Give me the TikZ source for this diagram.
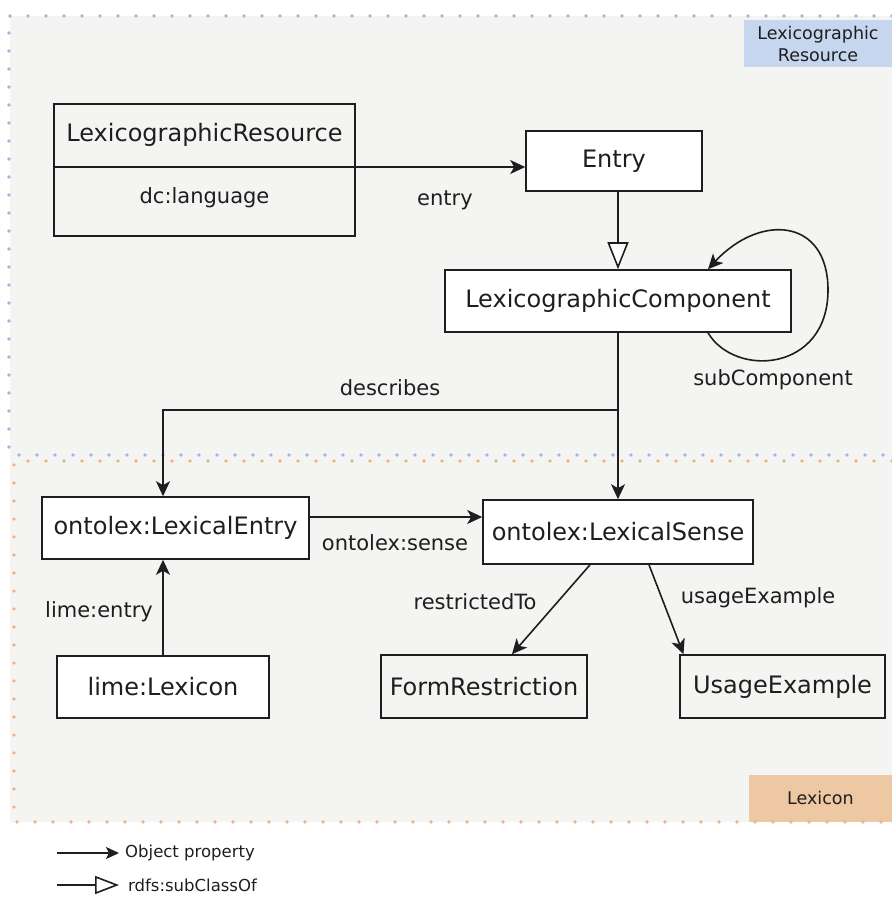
\documentclass[tikz,border=0pt]{standalone}
\usepackage{fontspec}
\setmainfont{DejaVu Sans}
\usetikzlibrary{arrows.meta}
\definecolor{bg}{HTML}{F4F4F2}
\definecolor{bluedot}{HTML}{ABB0E2}
\definecolor{orangedot}{HTML}{F0B48A}
\definecolor{bluelab}{HTML}{C6D6EF}
\definecolor{orangelab}{HTML}{EEC7A3}
\definecolor{ink}{HTML}{1E1E1E}
\begin{document}
\begin{tikzpicture}[x=1pt,y=-1pt,
  cls/.style={draw=ink, line width=1.6pt, fill=white, inner sep=0pt, font=\fontsize{24}{28}\selectfont, text=ink, minimum height=62pt},
  lbl/.style={font=\fontsize{21}{25}\selectfont, text=ink, inner sep=0pt},
  leg/.style={font=\fontsize{16.5}{20}\selectfont, text=ink, inner sep=0pt, anchor=west},
  reg/.style={font=\fontsize{17.5}{22}\selectfont, text=ink, inner sep=0pt, align=center},
  obj/.style={draw=ink, line width=1.6pt, -{Stealth[length=15pt,width=14pt,inset=4pt]}},
  sub/.style={draw=ink, line width=1.6pt, -{Triangle[length=27pt,width=21pt,fill=white]}},
  bdots/.style={draw=bluedot, line width=3.6pt, line cap=round, dash pattern=on 0pt off 18pt},
  odots/.style={draw=orangedot, line width=3.6pt, line cap=round, dash pattern=on 0pt off 18pt}]
\useasboundingbox (0,0) rectangle (892,898);
\fill[white] (0,0) rectangle (892,898);
\fill[bg] (10,16) rectangle (892,822);
% region labels
\fill[bluelab] (744,20) rectangle (892,67);
\node[reg] (rlab) at (818,43.5) {Lexicographic\\Resource};
\fill[orangelab] (749,775) rectangle (892,822);
\node[reg] (xlab) at (820.5,798) {Lexicon};
% region borders
\draw[bdots] (892,16) -- (9,16) -- (9,455) -- (892,455);
\draw[odots] (892,461) -- (14,461) -- (14,822) -- (892,822);
% classes
\node[cls, minimum width=301pt, minimum height=132pt, fill=bg] (lr) at (204.5,170) {};
\coordinate (dv) at (0,167);
\draw[ink, line width=1.6pt] (lr.west |- dv) -- (lr.east |- dv);
\node[lbl, font=\fontsize{24}{28}\selectfont] (lrt) at (204.5,135) {LexicographicResource};
\node[lbl] (lra) at (204.5,198) {dc:language};
\node[cls, minimum width=176pt, minimum height=60pt] (ent) at (614,161) {Entry};
\node[cls, minimum width=346pt] (lc) at (618,301) {LexicographicComponent};
\node[cls, minimum width=267pt] (le) at (175.5,528) {ontolex:LexicalEntry};
\node[cls, minimum width=270pt, minimum height=64pt] (ls) at (618,532) {ontolex:LexicalSense};
\node[cls, minimum width=212pt] (lx) at (163,687) {lime:Lexicon};
\node[cls, minimum width=206pt, minimum height=63pt, fill=bg] (fr) at (484,686.5) {FormRestriction};
\node[cls, minimum width=205pt, minimum height=63pt, fill=bg] (ue) at (782.5,686.5) {UsageExample};
% connectors
\draw[obj] (lr.east |- dv) -- (ent.west |- dv);
\node[lbl] (l-entry) at (445,200) {entry};
\draw[sub] (ent.south -| lc.north) -- (lc.north);
\draw[obj] ([xshift=90pt]lc.south) .. controls (735,378) and (828,372) .. (828,290)
  .. controls (828,218) and (760,213) .. ([xshift=90pt]lc.north);
\node[lbl] (l-sub) at (773,380) {subComponent};
\draw[obj] (lc.south) -- (ls.north);
\coordinate (db) at (618,410);
\draw[obj] (db) -- (db -| lx.north) -- (lx.north |- le.north);
\node[lbl] (l-desc) at (390,388) {describes};
\coordinate (sy) at (0,517);
\draw[obj] (le.east |- sy) -- (ls.west |- sy);
\node[lbl] (l-sense) at (395,543) {ontolex:sense};
\draw[obj] (lx.north) -- (lx.north |- le.south);
\node[lbl] (l-lime) at (99,612) {lime:entry};
\draw[obj] ([xshift=-28pt]ls.south) -- ([xshift=28pt]fr.north);
\node[lbl] (l-restr) at (475,602) {restrictedTo};
\draw[obj] ([xshift=31pt]ls.south) -- ([xshift=-99pt]ue.north);
\node[lbl] (l-usage) at (758,598) {usageExample};
% legend
\coordinate (g1a) at (57,853);
\coordinate (g1b) at (119,853);
\draw[draw=ink, line width=1.6pt, -{Stealth[length=13pt,width=12pt,inset=3pt]}] (g1a) -- (g1b);
\node[leg] (g1t) at (125,853) {Object property};
\coordinate (g2a) at (57,885);
\coordinate (g2b) at (119,885);
\draw[draw=ink, line width=1.6pt, -{Triangle[length=24pt,width=18pt,fill=white]}] (g2a) -- (g2b);
\node[leg] (g2t) at (128,885) {rdfs:subClassOf};
\end{tikzpicture}
\end{document}
